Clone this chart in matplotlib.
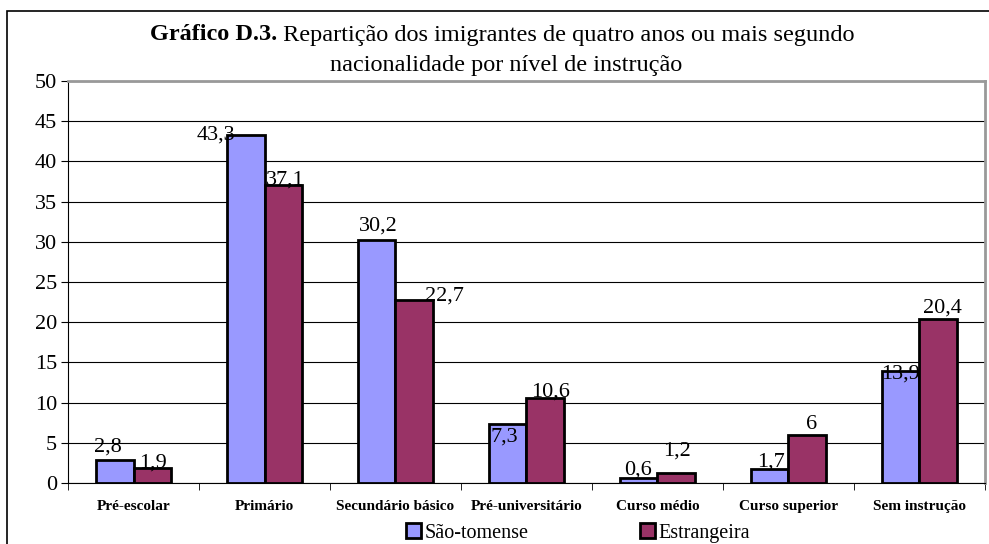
import matplotlib.pyplot as plt
from matplotlib.patches import Rectangle
import numpy as np

categories = ['Pré-escolar', 'Primário', 'Secundário básico', 'Pré-universitário',
              'Curso médio', 'Curso superior', 'Sem instrução']
sao_tomense = [2.8, 43.3, 30.2, 7.3, 0.6, 1.7, 13.9]
estrangeira = [1.9, 37.1, 22.7, 10.6, 1.2, 6.0, 20.4]
series_names = ['São-tomense', 'Estrangeira']

# label nudges in pixels (dx, dy of label centre from bar top centre)
offs_st = [(-7, 13), (-30, 0), (1, 14), (-4, -13), (-1, 8), (1, 7), (0, -3)]
offs_es = [(1, 5), (2, 5), (30, 4), (5, 6), (1, 22), (4, 10), (4, 11)]

plt.rcParams['font.family'] = ['Liberation Serif', 'DejaVu Serif']

fig = plt.figure(figsize=(9.89, 5.44), dpi=100)
ax = fig.add_axes([68 / 989, 61 / 544, 917 / 989, 402 / 544])

x = np.arange(len(categories))
w = 0.285
b1 = ax.bar(x - w / 2, sao_tomense, w, color='#9999FF', edgecolor='black',
            linewidth=2, label=series_names[0], zorder=3)
b2 = ax.bar(x + w / 2, estrangeira, w, color='#993366', edgecolor='black',
            linewidth=2, label=series_names[1], zorder=3)


def fmt(v):
    return ('%g' % v).replace('.', ',')


for bars, vals, offs in [(b1, sao_tomense, offs_st), (b2, estrangeira, offs_es)]:
    for bar, v, (dx, dy) in zip(bars, vals, offs):
        ax.annotate(fmt(v), (bar.get_x() + bar.get_width() / 2, v),
                    xytext=(dx * 0.72, dy * 0.72), textcoords='offset points',
                    ha='center', va='center', fontsize=16, zorder=4)

ax.set_xlim(-0.5, len(categories) - 0.5)
ax.set_ylim(0, 50)
ax.set_yticks(range(0, 51, 5))
ax.tick_params(axis='y', labelsize=16, length=5, direction='out', pad=3)
ax.set_xticks(x)
ax.set_xticklabels(categories, fontsize=11, fontweight='bold')
ax.tick_params(axis='x', length=0, pad=12)
ax.set_xticks(np.arange(-0.5, len(categories), 1), minor=True)
ax.tick_params(axis='x', which='minor', length=5, direction='out')
ax.yaxis.grid(True, color='black', linewidth=0.8, zorder=0)
ax.set_axisbelow(True)
ax.spines['left'].set_color('black')
ax.spines['bottom'].set_color('black')
ax.spines['top'].set_color('#999999')
ax.spines['right'].set_color('#999999')
ax.spines['top'].set_linewidth(2)
ax.spines['right'].set_linewidth(2)

# title: bold prefix and normal text on one centred line
ty = 1 - 35 / 544
t1 = fig.text(0, ty, 'Gráfico D.3.', fontsize=17.5, fontweight='bold',
              ha='left', va='center')
t2 = fig.text(0, ty, ' Repartição dos imigrantes de quatro anos ou mais segundo',
              fontsize=17.5, ha='left', va='center')
fig.canvas.draw()
r = fig.canvas.get_renderer()
w1 = t1.get_window_extent(r).width
w2 = t2.get_window_extent(r).width
x0 = 502 - (w1 + w2) / 2
t1.set_x(x0 / 989)
t2.set_x((x0 + w1) / 989)
fig.text(506 / 989, 1 - 66 / 544, 'nacionalidade por nível de instrução',
         fontsize=17.5, ha='center', va='center')

fig.legend(handles=[b1, b2], loc='center', bbox_to_anchor=(578 / 989, 1 - 533 / 544),
           ncol=2, frameon=False, fontsize=14.5, handlelength=0.75, handleheight=0.75,
           handletextpad=0.2, columnspacing=5.5, borderpad=0)

# outer chart border
fig.patches.append(Rectangle((7 / 989, -0.05), 1.1, 1 - 11 / 544 + 0.05,
                             transform=fig.transFigure, fill=False,
                             edgecolor='black', linewidth=1.2))

fig.savefig('out.png', dpi=100)
